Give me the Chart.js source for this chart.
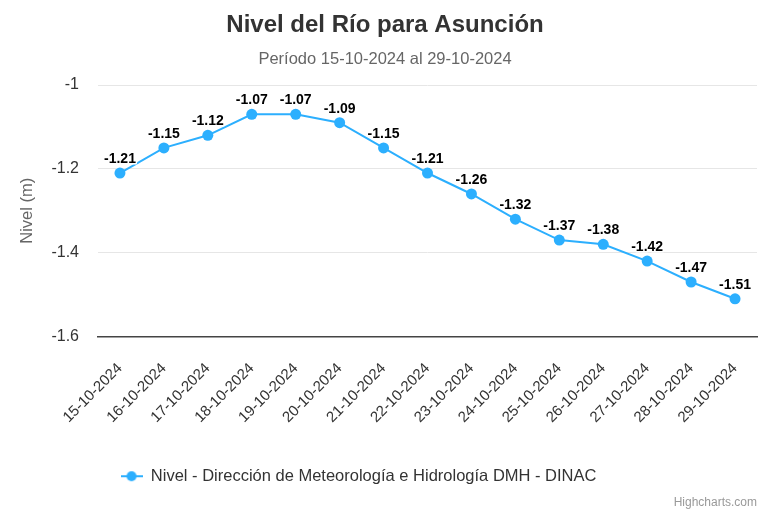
<!DOCTYPE html>
<html>
<head>
<meta charset="utf-8">
<script src="https://cdn.jsdelivr.net/npm/chart.js@4.4.1/dist/chart.umd.min.js"></script>
<style>
  html, body { margin: 0; padding: 0; background: #fff; }
  #wrap { width: 770px; height: 513px; }
</style>
</head>
<body>
<div id="wrap"><canvas id="rioChart" width="770" height="513"></canvas></div>
<script>
const fechas = ['15-10-2024', '16-10-2024', '17-10-2024', '18-10-2024', '19-10-2024', '20-10-2024', '21-10-2024',
  '22-10-2024', '23-10-2024', '24-10-2024', '25-10-2024', '26-10-2024', '27-10-2024', '28-10-2024', '29-10-2024'];
const nivel = [-1.21, -1.15, -1.12, -1.07, -1.07, -1.09, -1.15, -1.21, -1.26, -1.32, -1.37, -1.38, -1.42, -1.47, -1.51];
const yTicks = [-1, -1.2, -1.4, -1.6];

const BLUE = '#2caffe';
Chart.defaults.font.family = '"Liberation Sans", Arial, Helvetica, sans-serif';

// legend symbol: line with a marker, like the original
function legendSymbol() {
  const c = document.createElement('canvas');
  c.width = 22; c.height = 12;
  const g = c.getContext('2d');
  g.strokeStyle = BLUE; g.lineWidth = 2;
  g.beginPath(); g.moveTo(0, 6); g.lineTo(22, 6); g.stroke();
  g.fillStyle = BLUE;
  g.beginPath(); g.arc(11, 6, 5, 0, Math.PI * 2); g.fill();
  return c;
}

const dataLabels = {
  id: 'dataLabels',
  afterDatasetsDraw(chart) {
    const { ctx } = chart;
    const meta = chart.getDatasetMeta(0);
    ctx.save();
    ctx.font = 'bold 14px "Liberation Sans", Arial, sans-serif';
    ctx.textAlign = 'center';
    ctx.textBaseline = 'middle';
    ctx.lineJoin = 'round';
    meta.data.forEach((pt, i) => {
      const txt = String(chart.data.datasets[0].data[i]);
      ctx.strokeStyle = '#fff';
      ctx.lineWidth = 3;
      ctx.strokeText(txt, pt.x, pt.y - 14);
      ctx.fillStyle = '#000';
      ctx.fillText(txt, pt.x, pt.y - 14);
    });
    ctx.restore();
  }
};

const credits = {
  id: 'credits',
  afterLayout(chart) {
    // titles are centred on the whole canvas, legend a bit left of it
    chart.boxes.forEach(b => {
      if (b.position === 'top') { b.left += 6.5; b.right += 6.5; }
    });
    chart.legend.left -= 20;
    chart.legend.right -= 20;
  },
  afterDraw(chart) {
    const { ctx } = chart;
    ctx.save();
    ctx.font = '12px "Liberation Sans", Arial, sans-serif';
    ctx.fillStyle = '#999999';
    ctx.textAlign = 'right';
    ctx.textBaseline = 'middle';
    ctx.fillText('Highcharts.com', 757, 503);
    ctx.restore();
  }
};

new Chart(document.getElementById('rioChart'), {
  type: 'line',
  data: {
    labels: fechas,
    datasets: [{
      label: 'Nivel - Dirección de Meteorología e Hidrología DMH - DINAC',
      data: nivel,
      borderColor: BLUE,
      backgroundColor: BLUE,
      borderWidth: 2,
      pointRadius: 5.5,
      pointBorderWidth: 0,
      pointBackgroundColor: BLUE,
      tension: 0,
    }],
  },
  options: {
    responsive: false,
    animation: false,
    layout: { padding: { left: 0, right: 13, top: 0, bottom: 18.5 } },
    plugins: {
      tooltip: { enabled: false },
      title: {
        display: true,
        text: 'Nivel del Río para Asunción',
        color: '#333333',
        font: { size: 24, weight: 'bold' },
        padding: { top: 10.5, bottom: 0 },
      },
      subtitle: {
        display: true,
        text: 'Período 15-10-2024 al 29-10-2024',
        color: '#666666',
        font: { size: 16.5 },
        padding: { top: 10.3, bottom: 15.6 },
      },
      legend: {
        position: 'bottom',
        labels: {
          usePointStyle: true,
          pointStyle: legendSymbol(),
          pointStyleWidth: 22,
          color: '#333333',
          font: { size: 16.5 },
          padding: 10,
        },
      },
    },
    scales: {
      x: {
        offset: true,
        grid: { display: false },
        border: { display: true, color: '#444444', width: 1.5 },
        ticks: { color: '#333333', font: { size: 15 }, minRotation: 45, maxRotation: 45, padding: 15, autoSkip: false },
        afterFit(scale) { scale.height = 121.5; },
      },
      y: {
        min: -1.6,
        max: -1,
        grid: { color: '#e6e6e6', drawTicks: false },
        border: { display: false },
        title: { display: true, text: 'Nivel (m)', color: '#666666', font: { size: 16.5 }, padding: { top: 18, bottom: 0 } },
        ticks: { color: '#333333', font: { size: 16 }, padding: 19, callback: v => String(v) },
        afterBuildTicks(scale) { scale.ticks = yTicks.map(v => ({ value: v })); },
        afterFit(scale) { scale.width = 98; },
      },
    },
  },
  plugins: [dataLabels, credits],
});
</script>
</body>
</html>
